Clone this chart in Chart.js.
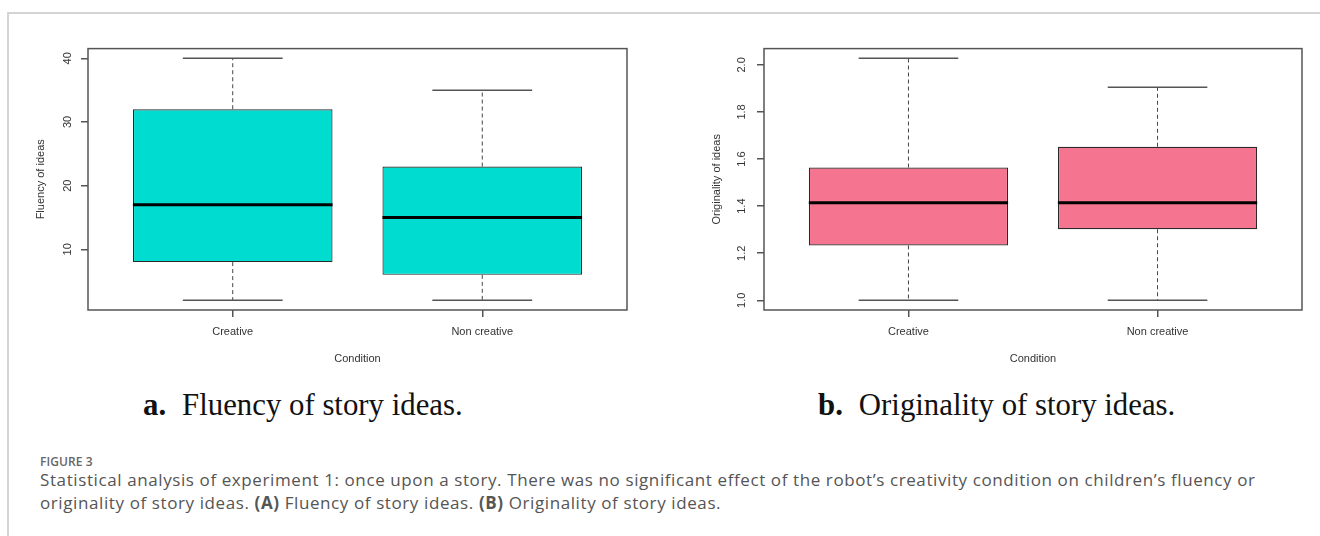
<!DOCTYPE html>
<html>
<head>
<meta charset="utf-8">
<script src="https://cdn.jsdelivr.net/npm/chart.js@4"></script>
<style>
  html, body { margin: 0; padding: 0; background: #fff; }
  body { width: 1320px; height: 536px; position: relative; overflow: hidden; }
  .card { position: absolute; left: 7px; top: 12px; width: 1330px; height: 600px;
          border-top: 2px solid #d4d4d4; border-left: 2px solid #d4d4d4; }
  canvas { position: absolute; top: 35px; }
  #fluency { left: 20px; }
  #origin { left: 700px; }
  .sub { position: absolute; top: 387px; font-family: "Liberation Serif", "Times New Roman", serif;
         font-size: 30.8px; line-height: 36px; color: #111; white-space: nowrap; }
  .sub b { margin-right: 16px; }
  .fig { position: absolute; left: 40px; top: 453px; font-family: "Open Sans", sans-serif;
         font-size: 12px; font-weight: 600; color: #666; letter-spacing: 0.1px; }
  .cap { position: absolute; left: 40px; top: 468px; font-family: "Open Sans", sans-serif;
         font-size: 17px; line-height: 23px; color: #555; white-space: nowrap; letter-spacing: 0.6px; }
  .cap b { font-weight: 700; }
</style>
</head>
<body>
<div class="card"></div>
<canvas id="fluency" width="620" height="340"></canvas>
<canvas id="origin" width="620" height="340"></canvas>
<div class="sub" style="left:143px"><b>a.</b>Fluency of story ideas.</div>
<div class="sub" style="left:818px"><b>b.</b>Originality of story ideas.</div>
<div class="fig">FIGURE 3</div>
<div class="cap">Statistical analysis of experiment 1: once upon a story. There was no significant effect of the robot’s creativity condition on children’s fluency or<br>originality of story ideas. <b>(A)</b> Fluency of story ideas. <b>(B)</b> Originality of story ideas.</div>
<script>
// groepen op de x-as
const conditions = ['Creative', 'Non creative'];
const positions = [1, 2];

const fluMin = [2, 2];
const fluQ1  = [8, 6];
const fluMed = [17, 15];
const fluQ3  = [32, 23];
const fluMax = [40, 35];
const fluTicks = [10, 20, 30, 40];

// b. originality
const oriMin = [1.0, 1.0];
const oriQ1  = [1.233, 1.302];
const oriMed = [1.414, 1.414];
const oriQ3  = [1.564, 1.652];
const oriMax = [2.028, 1.905];
const oriTicks = [1.0, 1.2, 1.4, 1.6, 1.8, 2.0];

Chart.defaults.font.family = '"Liberation Sans", Arial, sans-serif';
Chart.defaults.font.size = 11;
Chart.defaults.color = '#333';

// snorharen, mediaan en kader zoals in R
const boxExtras = {
  id: 'boxExtras',
  afterDatasetsDraw(chart, args, opts) {
    const { ctx, chartArea: a, scales: { x, y } } = chart;
    ctx.save();
    opts.pos.forEach((p, i) => {
      const cx = x.getPixelForValue(p);
      const capL = x.getPixelForValue(p - 0.2), capR = x.getPixelForValue(p + 0.2);
      const boxL = x.getPixelForValue(p - 0.4), boxR = x.getPixelForValue(p + 0.4);
      // gestippelde snorharen
      ctx.strokeStyle = '#444';
      ctx.lineWidth = 1;
      ctx.setLineDash([4, 3]);
      ctx.beginPath();
      ctx.moveTo(cx, y.getPixelForValue(opts.q3[i]));
      ctx.lineTo(cx, y.getPixelForValue(opts.max[i]));
      ctx.moveTo(cx, y.getPixelForValue(opts.q1[i]));
      ctx.lineTo(cx, y.getPixelForValue(opts.min[i]));
      ctx.stroke();
      ctx.setLineDash([]);
      // kapjes
      ctx.strokeStyle = '#555';
      ctx.lineWidth = 1.5;
      ctx.beginPath();
      [opts.max[i], opts.min[i]].forEach(v => {
        const py = y.getPixelForValue(v);
        ctx.moveTo(capL, py); ctx.lineTo(capR, py);
      });
      ctx.stroke();
      // mediaan
      ctx.strokeStyle = '#000';
      ctx.lineWidth = 3;
      ctx.beginPath();
      const my = y.getPixelForValue(opts.med[i]);
      ctx.moveTo(boxL, my); ctx.lineTo(boxR, my);
      ctx.stroke();
    });
    ctx.strokeStyle = '#555';
    ctx.lineWidth = 1.5;
    ctx.strokeRect(a.left, a.top, a.right - a.left, a.bottom - a.top);
    ctx.restore();
  }
};

const makeBox = (id, cfg) => {
  const lo = Math.min(...cfg.min), hi = Math.max(...cfg.max);
  const pad = (hi - lo) * 0.04;
  return new Chart(document.getElementById(id), {
    type: 'bar',
    data: {
      datasets: [{
        data: positions.map((p, i) => ({ x: p, y: [cfg.q1[i], cfg.q3[i]] })),
        backgroundColor: cfg.color,
        borderColor: '#2a2a2a',
        borderWidth: 1.2,
        borderSkipped: false,
        categoryPercentage: 1,
        barPercentage: 0.8
      }]
    },
    plugins: [boxExtras],
    options: {
      responsive: false,
      animation: false,
      layout: { padding: { top: 12, right: cfg.padRight, left: 0, bottom: 0 } },
      plugins: {
        legend: { display: false },
        tooltip: { enabled: false },
        boxExtras: { pos: positions, min: cfg.min, q1: cfg.q1, med: cfg.med, q3: cfg.q3, max: cfg.max }
      },
      scales: {
        x: {
          type: 'linear',
          offset: false,
          min: 0.42, max: 2.58,
          afterBuildTicks: s => { s.ticks = positions.map(v => ({ value: v })); },
          afterFit: s => { s.height = 65; },
          ticks: { padding: 8, color: '#333', callback: v => conditions[positions.indexOf(v)] },
          grid: { offset: false, drawOnChartArea: false, drawTicks: true, tickLength: 7, color: '#555', lineWidth: 1.5 },
          border: { display: false },
          title: { display: true, text: 'Condition', color: '#333', padding: { top: 0, bottom: 9 } }
        },
        y: {
          min: lo - pad, max: hi + pad,
          afterBuildTicks: s => { s.ticks = cfg.ticks.map(v => ({ value: v })); },
          afterFit: s => { s.width = cfg.axisWidth; },
          ticks: { padding: 7, minRotation: 90, maxRotation: 90, crossAlign: 'center', color: '#333',
                   callback: v => cfg.fmt(v) },
          grid: { drawOnChartArea: false, drawTicks: true, tickLength: 7, color: '#555', lineWidth: 1.5 },
          border: { display: false },
          title: { display: true, text: cfg.title, color: '#333', padding: { top: cfg.titlePad, bottom: 0 } }
        }
      }
    }
  });
};

makeBox('fluency', {
  min: fluMin, q1: fluQ1, med: fluMed, q3: fluQ3, max: fluMax, ticks: fluTicks,
  color: '#00DDD0', title: 'Fluency of ideas', fmt: v => String(v),
  axisWidth: 68, padRight: 13, titlePad: 14
});
makeBox('origin', {
  min: oriMin, q1: oriQ1, med: oriMed, q3: oriQ3, max: oriMax, ticks: oriTicks,
  color: '#F57490', title: 'Originality of ideas', fmt: v => v.toFixed(1),
  axisWidth: 64, padRight: 18, titlePad: 10
});
</script>
</body>
</html>
